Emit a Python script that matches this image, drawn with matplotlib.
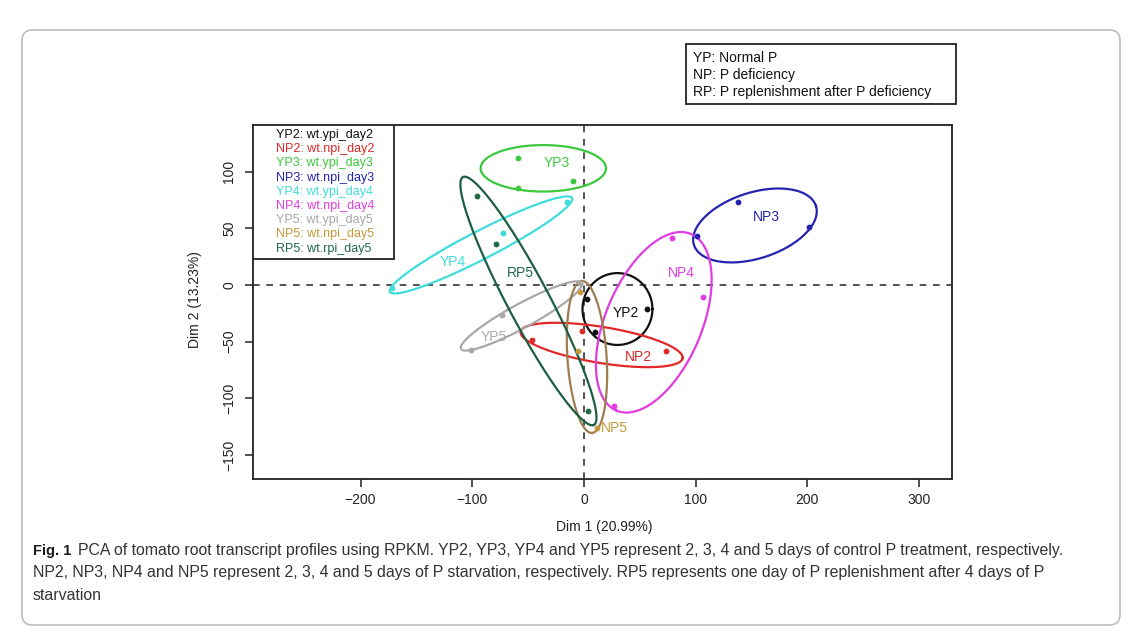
import numpy as np
import matplotlib
matplotlib.use("Agg")
import matplotlib.pyplot as plt
from matplotlib.patches import FancyBboxPatch, Rectangle

plt.rcParams['font.family'] = ['Liberation Sans', 'DejaVu Sans']

# groups, legend text and colours
groups = ["YP2", "NP2", "YP3", "NP3", "YP4", "NP4", "YP5", "NP5", "RP5"]
descs = ["wt.ypi_day2", "wt.npi_day2", "wt.ypi_day3", "wt.npi_day3", "wt.ypi_day4",
         "wt.npi_day4", "wt.ypi_day5", "wt.npi_day5", "wt.rpi_day5"]
colors = ["#111111", "#E02828", "#3CC83C", "#2424B0", "#40DCDC",
          "#E03CE0", "#A8A8A8", "#C49A3C", "#1F6B45"]
ell_colors = ["#111111", "#E02828", "#3CC83C", "#2424B0", "#40DCDC",
              "#E03CE0", "#A8A8A8", "#9E7E50", "#1E5E40"]

# individual samples (Dim 1, Dim 2)
pts_x = [[2.4, 9.8, 56.4], [-46.8, -2.1, 73.4], [-58.8, -58.8, -9.6],
         [137.6, 101.4, 201.7], [-15.5, -72.8, -171.9], [78.5, 106.8, 27.1],
         [-73.7, -101.4, -3.6], [-3.6, -5.6, 11.4], [-95.5, -78.8, 3.8]]
pts_y = [[-12.6, -41.2, -21.6], [-48.5, -40.6, -57.9], [111.7, 85.8, 91.7],
         [73.5, 43.2, 50.9], [73.5, 45.6, -2.9], [41.2, -10.8, -106.4],
         [-26.5, -57.3, 1.5], [-6.5, -57.9, -126.4], [78.5, 35.9, -110.8]]

# confidence ellipses: centre and two conjugate semi-axis vectors (data units)
ell_cx = [30.0, 15.8, -36.4, 153.1, -92.2, 62.5, -56.0, 2.7, -49.7]
ell_cy = [-21.2, -52.9, 102.9, 52.5, 35.3, -32.9, -27.3, -63.5, -14.1]
ell_ux = [31.3, 72.5, 56.1, 54.6, 81.5, -33.3, 54.1, 4.5, 58.6]
ell_uy = [0.0, -11.7, 0.0, 17.2, 41.4, -77.9, 29.1, -67.0, -109.3]
ell_vx = [0.0, -2.6, 0.0, 9.0, 5.8, 39.7, 5.2, 17.5, 16.7]
ell_vy = [31.7, -15.7, 20.5, -27.7, -11.0, -16.4, -9.3, 1.1, 8.6]

# group labels
lab_x = [37.2, 49.2, -23.9, 163.6, -117.0, 87.5, -80.6, 26.9, -56.7]
lab_y = [-25.0, -63.2, 107.3, 60.2, 20.5, 10.3, -45.9, -126.4, 10.3]

xticks = [-200, -100, 0, 100, 200, 300]
yticks = [-150, -100, -50, 0, 50, 100]

key_lines = ["YP: Normal P", "NP: P deficiency", "RP: P replenishment after P deficiency"]
cap_bold = "Fig. 1"
cap1 = "PCA of tomato root transcript profiles using RPKM. YP2, YP3, YP4 and YP5 represent 2, 3, 4 and 5 days of control P treatment, respectively."
cap2 = "NP2, NP3, NP4 and NP5 represent 2, 3, 4 and 5 days of P starvation, respectively. RP5 represents one day of P replenishment after 4 days of P"
cap3 = "starvation"

W, H = 1140, 641
fig = plt.figure(figsize=(W / 100, H / 100), dpi=100)

# outer rounded frame
frame = FancyBboxPatch((22 / W, 1 - 625 / H), 1098 / W, 595 / H,
                       boxstyle="round,pad=0,rounding_size=0.009",
                       mutation_aspect=W / H, transform=fig.transFigure,
                       fc="none", ec="#BDBDBD", lw=1.2, zorder=-1)
fig.patches.append(frame)

ax = fig.add_axes([253 / W, 1 - 479 / H, 699 / W, 354 / H])
ax.set_xlim(-296.3, 329.5)
ax.set_ylim(-171.1, 141.1)

ax.axhline(0, color="#333333", lw=1.2, ls=(0, (4, 4)), zorder=1)
ax.axvline(0, color="#333333", lw=1.2, ls=(0, (4, 4)), zorder=1)

t = np.linspace(0, 2 * np.pi, 300)
for i, g in enumerate(groups):
    ex = ell_cx[i] + ell_ux[i] * np.cos(t) + ell_vx[i] * np.sin(t)
    ey = ell_cy[i] + ell_uy[i] * np.cos(t) + ell_vy[i] * np.sin(t)
    ax.plot(ex, ey, color=ell_colors[i], lw=1.6, zorder=2)
    ax.plot(pts_x[i], pts_y[i], "o", color=colors[i], ms=4.2, mec="none", zorder=3)
    ax.text(lab_x[i], lab_y[i], g, color=colors[i], fontsize=10, ha="center", va="center", zorder=4)

for s in ax.spines.values():
    s.set_linewidth(1.3)
    s.set_color("#222222")
ax.set_xticks(xticks)
ax.set_yticks(yticks)
ax.set_xticklabels([str(v).replace("-", "\u2212") for v in xticks])
ax.set_yticklabels([str(v).replace("-", "\u2212") for v in yticks], rotation=90, va="center")
ax.tick_params(length=6, width=1.1, labelsize=10, color="#222222", labelcolor="#222222")
ax.tick_params(axis="x", pad=4)
ax.tick_params(axis="y", pad=6)

fig.text(604 / W, 1 - 527 / H, "Dim 1 (20.99%)", ha="center", va="center", fontsize=10, color="#222222")
fig.text(195 / W, 1 - 300 / H, "Dim 2 (13.23%)", ha="center", va="center", fontsize=10,
         rotation=90, color="#222222")

# legend box (top-left inside the plot)
ax.add_patch(Rectangle((0, 0.6215), 0.2017, 0.3785, transform=ax.transAxes,
                       fc="white", ec="#222222", lw=1.3, zorder=5))
for i, g in enumerate(groups):
    yy = (479 - (135 + i * 14.2)) / 354
    ax.text(0.033, yy, f"{g}: {descs[i]}", transform=ax.transAxes, color=colors[i],
            fontsize=9, ha="left", va="center", zorder=6)

# key box (top right, above the plot)
fig.patches.append(Rectangle((686 / W, 1 - 104 / H), 270 / W, 60 / H, transform=fig.transFigure,
                             fc="white", ec="#222222", lw=1.3))
for i, s in enumerate(key_lines):
    fig.text(693 / W, 1 - (58 + i * 17) / H, s, fontsize=10, ha="left", va="center", color="#111111")

# caption
r = fig.canvas.get_renderer()
tb = fig.text(33 / W, 1 - 551 / H, cap_bold, fontsize=10.5, fontweight="bold",
              ha="left", va="center", color="#1a1a1a")
bb = tb.get_window_extent(r)
x0 = bb.x1 + 7
t1 = fig.text(x0 / W, 1 - 551 / H, cap1, fontsize=10, ha="left", va="center", color="#333333")
w1 = t1.get_window_extent(r).width
fs = 10 * (1068 - x0) / w1
t1.set_fontsize(fs)
fig.text(33 / W, 1 - 573 / H, cap2, fontsize=fs, ha="left", va="center", color="#333333")
fig.text(33 / W, 1 - 596 / H, cap3, fontsize=fs, ha="left", va="center", color="#333333")

fig.savefig("out.png", dpi=100)
